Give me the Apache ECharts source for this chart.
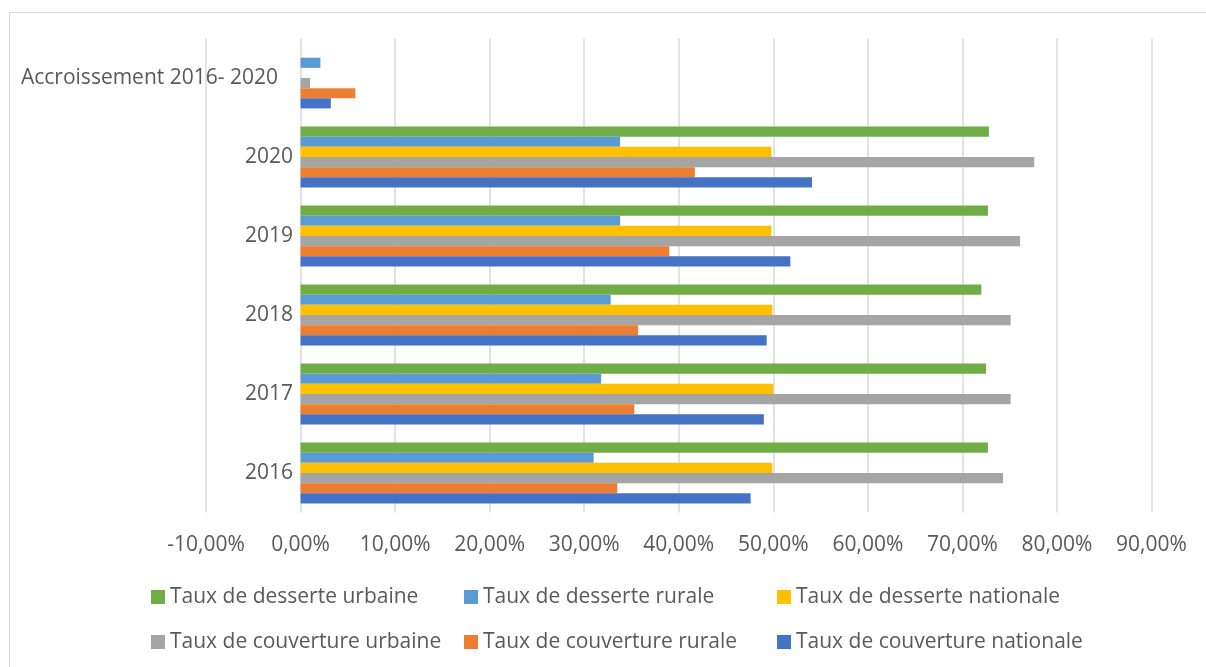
<!DOCTYPE html>
<html>
<head>
<meta charset="utf-8">
<script src="https://cdn.jsdelivr.net/npm/echarts@6/dist/echarts.min.js"></script>
<style>
html,body{margin:0;padding:0;background:#fff;}
#chart{width:1206px;height:667px;}
</style>
</head>
<body>
<div id="chart"></div>
<script>
// Categories (bottom to top)
const categories = ['2016', '2017', '2018', '2019', '2020', 'Accroissement 2016- 2020'];
// Series values (percent)
const desserteUrbaine    = [72.7, 72.5, 72.0, 72.7, 72.8, 0];
const desserteRurale     = [31.0, 31.8, 32.8, 33.8, 33.8, 2.1];
const desserteNationale  = [49.9, 50.0, 49.9, 49.8, 49.8, 0];
const couvertureUrbaine  = [74.3, 75.1, 75.1, 76.1, 77.6, 1.0];
const couvertureRurale   = [33.5, 35.3, 35.7, 39.0, 41.7, 5.8];
const couvertureNationale= [47.6, 49.0, 49.3, 51.8, 54.1, 3.2];
// Series names
const seriesNames = [
  'Taux de desserte urbaine', 'Taux de desserte rurale', 'Taux de desserte nationale',
  'Taux de couverture urbaine', 'Taux de couverture rurale', 'Taux de couverture nationale'
];
const seriesValues = [desserteUrbaine, desserteRurale, desserteNationale,
                      couvertureUrbaine, couvertureRurale, couvertureNationale];
const colors = ['#70AD47', '#5B9BD5', '#FFC000', '#A5A5A5', '#ED7D31', '#4472C4'];
// Axis ticks
const xMin = -10, xMax = 90, xStep = 10;

const FONT = '"Open Sans", "Noto Sans", sans-serif';
const TXT = '#595959';

const chart = echarts.init(document.getElementById('chart'), null, {renderer: 'canvas'});

const legendPos = [
  [151, 585], [464, 585], [777, 585],
  [151, 630], [464, 630], [777, 630]
];

const option = {
  animation: false,
  backgroundColor: '#ffffff',
  color: colors,
  graphic: [{
    type: 'rect',
    left: 7, top: 10,
    shape: {width: 1220, height: 680},
    style: {fill: 'none', stroke: '#d9d9d9', lineWidth: 1}
  }],
  grid: {left: 206, right: 54.5, top: 38.5, bottom: 154.5, containLabel: false, outerBoundsMode: 'none'},
  xAxis: {
    type: 'value',
    min: xMin, max: xMax, interval: xStep,
    axisLine: {show: false},
    axisTick: {show: false},
    splitLine: {show: true, lineStyle: {color: '#d9d9d9', width: 1.5}},
    axisLabel: {
      color: TXT, fontFamily: FONT, fontSize: 21, lineHeight: 21, margin: 22,
      formatter: v => v.toFixed(2).replace('.', ',') + '%'
    }
  },
  yAxis: {
    type: 'category',
    data: categories,
    axisLine: {show: false},
    axisTick: {show: false},
    axisLabel: {
      color: TXT, fontFamily: FONT, fontSize: 21, margin: -87,
      formatter: v => v.length > 6 ? '{a|' + v + '}' : v,
      rich: {a: {color: TXT, fontFamily: FONT, fontSize: 21, padding: [0, 15, 0, 0]}}
    }
  },
  legend: seriesNames.map((n, i) => ({
    data: [n],
    left: legendPos[i][0], top: legendPos[i][1],
    padding: 0,
    itemWidth: 14, itemHeight: 14,
    icon: 'rect',
    textStyle: {color: TXT, fontFamily: FONT, fontSize: 21, lineHeight: 24}
  })),
  series: seriesNames.map((n, i) => ({
    name: n,
    type: 'bar',
    data: seriesValues[i],
    barGap: '0%',
    barCategoryGap: '23%',
    itemStyle: {color: colors[i]}
  }))
};

chart.setOption(option);
</script>
</body>
</html>
